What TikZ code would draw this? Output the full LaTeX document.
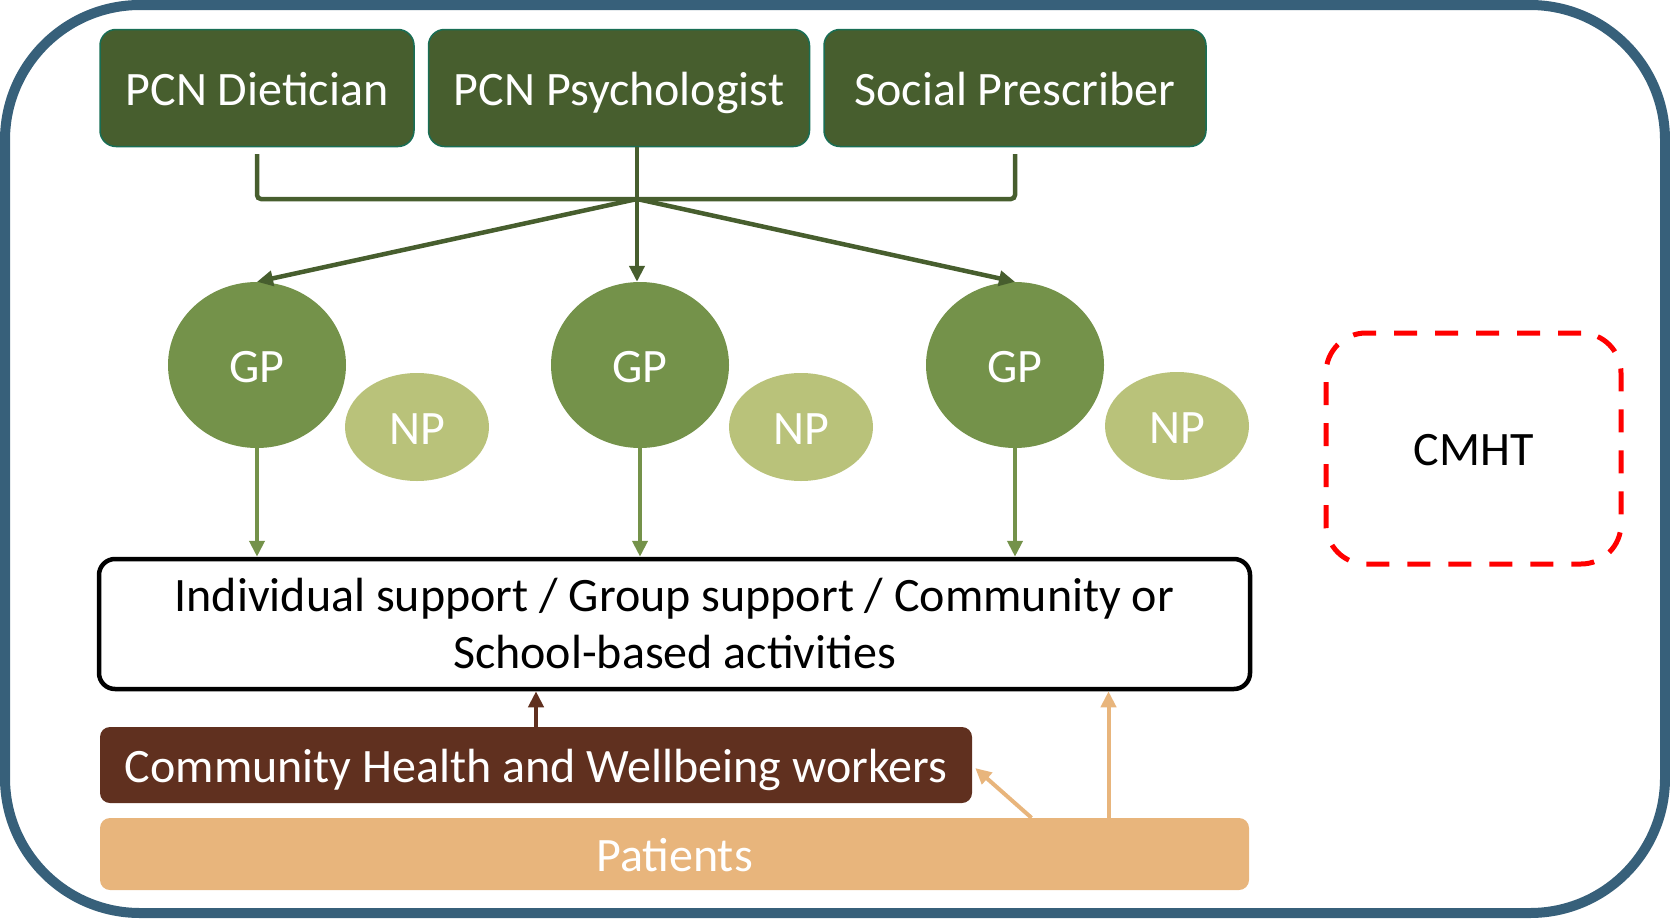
\documentclass[tikz,border=0pt]{standalone}
\usepackage{fontspec}
\setmainfont{Carlito}
\usetikzlibrary{arrows.meta,shapes.geometric}
\definecolor{framebl}{RGB}{55,96,122}
\definecolor{pcngreen}{RGB}{71,94,46}
\definecolor{pcnedge}{RGB}{25,110,85}
\definecolor{gpgreen}{RGB}{116,146,74}
\definecolor{npgreen}{RGB}{185,194,122}
\definecolor{chwbrown}{RGB}{96,48,31}
\definecolor{pattan}{RGB}{232,181,124}
\begin{document}
\begin{tikzpicture}[x=1pt, y=-1pt, font=\fontsize{48}{57}\selectfont,
    pcn/.style = {draw=pcnedge, line width=1.5pt, fill=pcngreen, rounded corners=16pt, text=white, minimum height=117pt, inner sep=0pt, text height=36pt, text depth=2pt},
    gp/.style = {ellipse, fill=gpgreen, text=white, minimum width=178pt, minimum height=166pt, inner sep=0pt, text height=36pt, text depth=2pt},
    np/.style = {ellipse, fill=npgreen, text=white, minimum width=144pt, minimum height=108pt, inner sep=0pt, text height=36pt, text depth=2pt},
    bar/.style = {rounded corners=10pt, text=white, inner sep=0pt, text height=36pt, text depth=2pt},
    link/.style = {draw=pcngreen, line width=4.5pt},
    tip/.style = {-{Triangle[length=16pt,width=15pt]}}
    ]
    \useasboundingbox (0,0) rectangle (1670,918);
    \draw[framebl, line width=10pt, rounded corners=135pt] (5,5) rectangle (1665,913);

    \node[pcn, minimum width=314pt] (diet) at (257,88) {PCN Dietician};
    \node[pcn, minimum width=381pt] (psych) at (619,88) {PCN Psychologist};
    \node[pcn, minimum width=382pt] (soc) at (1015,88) {Social Prescriber};

    \node[gp] (gp1) at (257,365) {GP};
    \node[gp] (gp2) at (640,365) {GP};
    \node[gp] (gp3) at (1015,365) {GP};
    \node[np] (np1) at (417,427) {NP};
    \node[np] (np2) at (801,427) {NP};
    \node[np] (np3) at (1177,426) {NP};

    \node[draw=black, line width=4.5pt, fill=white, rounded corners=16pt, minimum width=1151pt, minimum height=130pt, align=center, inner sep=0pt] (act) at (674.5,624) {Individual support / Group support / Community or\\School-based activities};
    \node[bar, fill=chwbrown, minimum width=872pt, minimum height=76pt] (chw) at (536,765) {Community Health and Wellbeing workers};
    \node[bar, fill=pattan, minimum width=1149pt, minimum height=72pt] (pat) at (674.5,854) {Patients};

    \node[draw=red, line width=5pt, dash pattern=on 23pt off 18pt, rounded corners=40pt, minimum width=295pt, minimum height=231pt, text height=36pt, text depth=2pt] (cmht) at (1473.5,448.5) {CMHT};

    \coordinate (dl) at (257,154);
    \coordinate (sl) at (1015,154);
    \coordinate (j) at (637,199);

    \draw[link, rounded corners=4pt] (dl) |- (j) -| (sl);
    \draw[link, tip, fill=pcngreen] (psych.south -| j) -- (j |- gp2.north);
    \draw[link, tip, fill=pcngreen] (j) -- (gp1.north);
    \draw[link, tip, fill=pcngreen] (j) -- (gp3.north);

    \draw[draw=gpgreen, fill=gpgreen, line width=4pt, tip] (gp1.south) -- (gp1.south |- act.north);
    \draw[draw=gpgreen, fill=gpgreen, line width=4pt, tip] (gp2.south) -- (gp2.south |- act.north);
    \draw[draw=gpgreen, fill=gpgreen, line width=4pt, tip] (gp3.south) -- (gp3.south |- act.north);

    \draw[draw=chwbrown, fill=chwbrown, line width=4pt, tip] (chw.north) -- (chw.north |- act.south);
    \draw[draw=pattan, fill=pattan, line width=4pt, tip] ([xshift=357pt]pat.north) -- ([xshift=3pt,yshift=-3pt]chw.east);
    \draw[draw=pattan, fill=pattan, line width=4pt, tip] ([xshift=434pt]pat.north) -- ([xshift=434pt]act.south);
\end{tikzpicture}
\end{document}
